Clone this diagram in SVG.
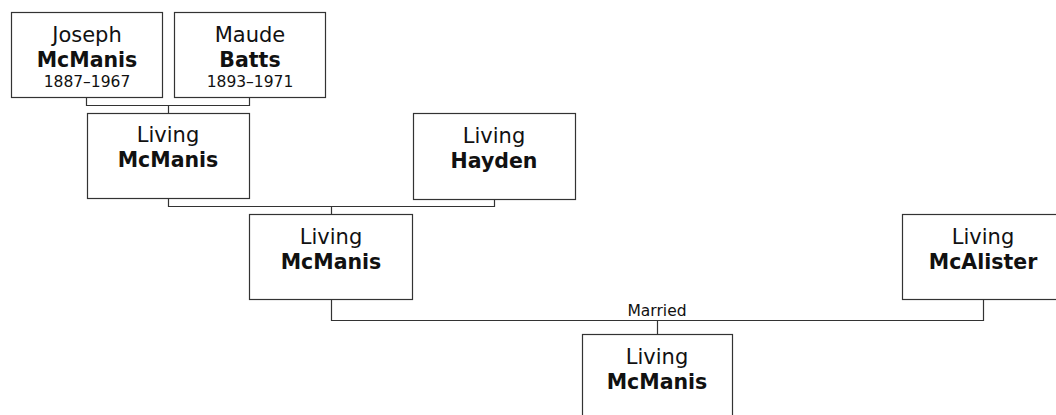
<svg xmlns="http://www.w3.org/2000/svg" width="1056" height="415" viewBox="0 0 1056 415">
<style>
.box{fill:#fff;stroke:#333;stroke-width:1.2}
.con{fill:none;stroke:#333;stroke-width:1.2}
text{font-family:"DejaVu Sans",Verdana,sans-serif;fill:#111;text-anchor:middle}
.n{font-size:21px}
.b{font-size:20.5px;font-weight:bold}
.d{font-size:15.5px}
.lbl{font-size:15.5px}
</style>
<rect width="1056" height="415" fill="#fff"/>
<g id="connectors">
<path class="con" d="M86.5,97.5V105.5H249.5V97.5M168.5,105.5V113.5"/>
<path class="con" d="M168.5,198.5V206.5H494.5V199.5M331.5,206.5V214.5"/>
<path class="con" d="M331.5,299.5V320.5H983.5V299.5M657.5,320.5V334.5"/>
<text class="lbl" x="657" y="316">Married</text>
</g>
<g id="joseph">
<rect class="box" x="11.5" y="12.5" width="151" height="85"/>
<text class="n" x="87" y="42">Joseph</text>
<text class="b" x="87" y="67">McManis</text>
<text class="d" x="87" y="87">1887–1967</text>
</g>
<g id="maude">
<rect class="box" x="174.5" y="12.5" width="151" height="85"/>
<text class="n" x="250" y="42">Maude</text>
<text class="b" x="250" y="67">Batts</text>
<text class="d" x="250" y="87">1893–1971</text>
</g>
<g id="living1">
<rect class="box" x="87.5" y="113.5" width="162" height="85"/>
<text class="n" x="168" y="142">Living</text>
<text class="b" x="168" y="167">McManis</text>
</g>
<g id="hayden">
<rect class="box" x="413.5" y="113.5" width="162" height="86"/>
<text class="n" x="494" y="143">Living</text>
<text class="b" x="494" y="168">Hayden</text>
</g>
<g id="living2">
<rect class="box" x="249.5" y="214.5" width="163" height="85"/>
<text class="n" x="331" y="244">Living</text>
<text class="b" x="331" y="269">McManis</text>
</g>
<g id="mcalister">
<rect class="box" x="902.5" y="214.5" width="162" height="85"/>
<text class="n" x="983" y="244">Living</text>
<text class="b" x="983" y="269">McAlister</text>
</g>
<g id="living3">
<rect class="box" x="582.5" y="334.5" width="150" height="90"/>
<text class="n" x="657" y="364">Living</text>
<text class="b" x="657" y="389">McManis</text>
</g>
</svg>
